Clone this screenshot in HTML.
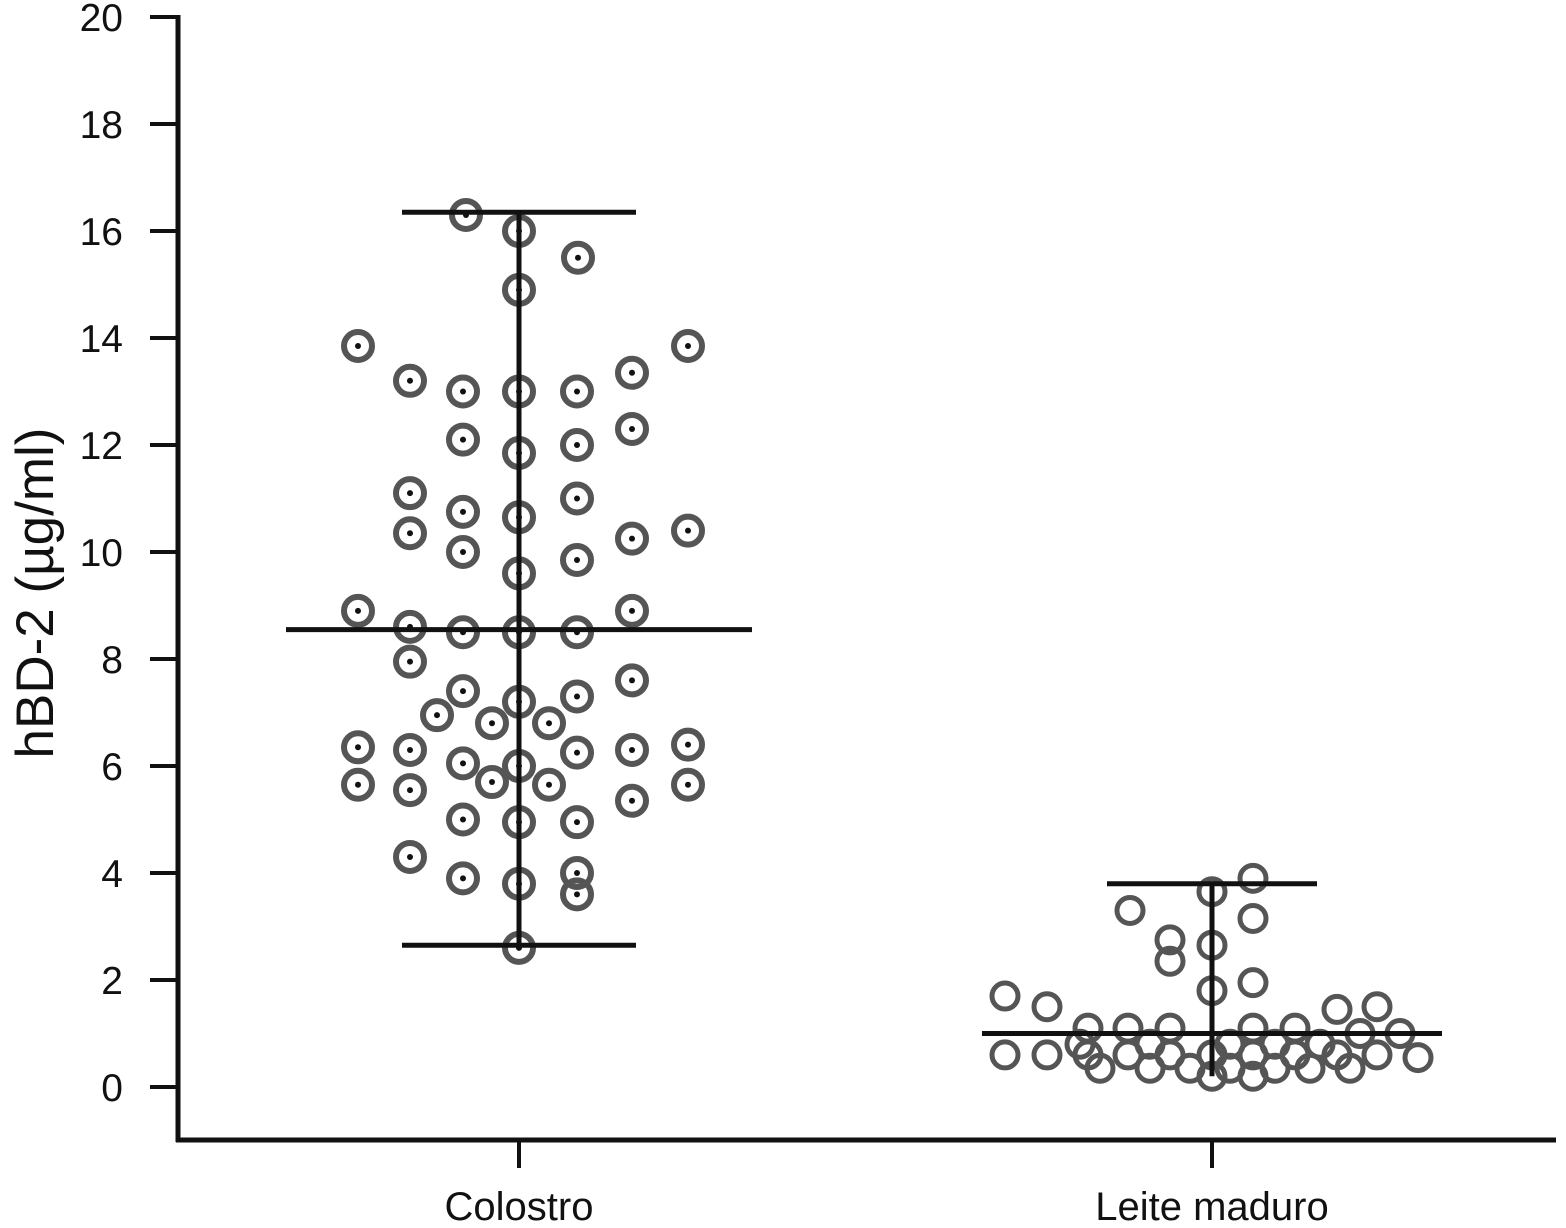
<!DOCTYPE html>
<html><head><meta charset="utf-8"><style>
html,body{margin:0;padding:0;background:#fff;}
svg{display:block;font-family:"Liberation Sans",sans-serif;}
</style></head><body>
<svg id="chart" width="1566" height="1228" viewBox="0 0 1566 1228" xmlns="http://www.w3.org/2000/svg">
<g id="axes"></g>
<g id="points"></g>
<g id="stats"></g>
<text transform="translate(53,593) rotate(-90)" text-anchor="middle" font-size="53" fill="#111">hBD-2 (µg/ml)</text>
</svg>
<script>
const categories = ["Colostro", "Leite maduro"];
const yTicks = [0,2,4,6,8,10,12,14,16,18,20];
const colostroX = [466,519,578,519,358,688,410,632,463,519,577,632,463,577,519,410,577,463,519,410,688,632,463,577,519,358,632,410,463,519,577,410,632,463,519,577,437,492,549,358,410,577,632,688,463,519,492,549,358,410,688,632,463,519,577,410,463,519,577,577,519];
const colostroVals = [16.3,16.0,15.5,14.9,13.85,13.85,13.2,13.35,13.0,13.0,13.0,12.3,12.1,12.0,11.85,11.1,11.0,10.75,10.65,10.35,10.4,10.25,10.0,9.85,9.6,8.9,8.9,8.6,8.5,8.5,8.5,7.95,7.6,7.4,7.2,7.3,6.95,6.8,6.8,6.35,6.3,6.25,6.3,6.4,6.05,6.0,5.7,5.65,5.65,5.55,5.65,5.35,5.0,4.95,4.95,4.3,3.9,3.8,4.0,3.6,2.6];
const leiteX = [1130,1212,1253,1253,1170,1170,1212,1212,1253,1005,1047,1337,1377,1088,1128,1170,1253,1295,1360,1400,1005,1047,1088,1128,1170,1212,1253,1295,1337,1377,1418,1100,1150,1190,1230,1275,1310,1350,1212,1253,1080,1150,1230,1275,1320];
const leiteVals = [3.3,3.65,3.9,3.15,2.75,2.35,2.65,1.8,1.95,1.7,1.5,1.45,1.5,1.1,1.1,1.1,1.1,1.1,1.0,1.0,0.6,0.6,0.6,0.6,0.6,0.6,0.6,0.6,0.6,0.6,0.55,0.35,0.35,0.35,0.35,0.35,0.35,0.35,0.2,0.2,0.8,0.8,0.8,0.8,0.8];
const means = [8.55, 1.0];
const maxs = [16.35, 3.8];
const mins = [2.65, 0.2];

const NS="http://www.w3.org/2000/svg";
function y(v){return 1087 - v*53.5;}
const catX = [519,1212];
function mk(tag,parent,attrs){const e=document.createElementNS(NS,tag);for(const k in attrs)e.setAttribute(k,attrs[k]);parent.appendChild(e);return e;}
const axes=document.getElementById('axes'), pts=document.getElementById('points'), st=document.getElementById('stats');
let e=mk('line',axes,{x1:178,y1:15,x2:178,y2:1142,stroke:'#111','stroke-width':5});


e=mk('line',axes,{x1:176,y1:1140,x2:1556,y2:1140,stroke:'#111','stroke-width':5});


yTicks.forEach(t=>{
  let l=mk('line',axes,{x1:150,y1:y(t),x2:178,y2:y(t),stroke:'#111','stroke-width':4});
  
  
  let tx=mk('text',axes,{x:123,y:y(t)+14,'text-anchor':'end','font-size':39,fill:'#111'});
  tx.textContent=t;
  
  
});
categories.forEach((c,i)=>{
  let l=mk('line',axes,{x1:catX[i],y1:1140,x2:catX[i],y2:1168,stroke:'#111','stroke-width':4});
  
  
  let tx=mk('text',axes,{x:catX[i],y:1220,'text-anchor':'middle','font-size':40,fill:'#111'});
  tx.textContent=c;
  
  
});
colostroVals.forEach((v,i)=>{
  let c=mk('circle',pts,{cx:colostroX[i],cy:y(v),r:14,fill:'none',stroke:'#555','stroke-width':6});
  
  
  let d=mk('circle',pts,{cx:colostroX[i],cy:y(v),r:3,fill:'#111'});
  
  
});
leiteVals.forEach((v,i)=>{
  let c=mk('circle',pts,{cx:leiteX[i],cy:y(v),r:13,fill:'none',stroke:'#555','stroke-width':5});
  
  
});
const meanHalf=[233,230], rangeHalf=[117,105];
categories.forEach((c,i)=>{
  let m=mk('line',st,{x1:catX[i]-meanHalf[i],y1:y(means[i]),x2:catX[i]+meanHalf[i],y2:y(means[i]),stroke:'#111','stroke-width':5});
  
  
  let a=mk('line',st,{x1:catX[i]-rangeHalf[i],y1:y(maxs[i]),x2:catX[i]+rangeHalf[i],y2:y(maxs[i]),stroke:'#111','stroke-width':5});
  
  
  let b=mk('line',st,{x1:catX[i]-rangeHalf[i],y1:y(mins[i]),x2:catX[i]+rangeHalf[i],y2:y(mins[i]),stroke:'#111','stroke-width':i==0?5:0});
  
  
  let v=mk('line',st,{x1:catX[i],y1:y(maxs[i]),x2:catX[i],y2:y(mins[i]),stroke:'#111','stroke-width':5});
  
  
});
</script>
</body></html>
